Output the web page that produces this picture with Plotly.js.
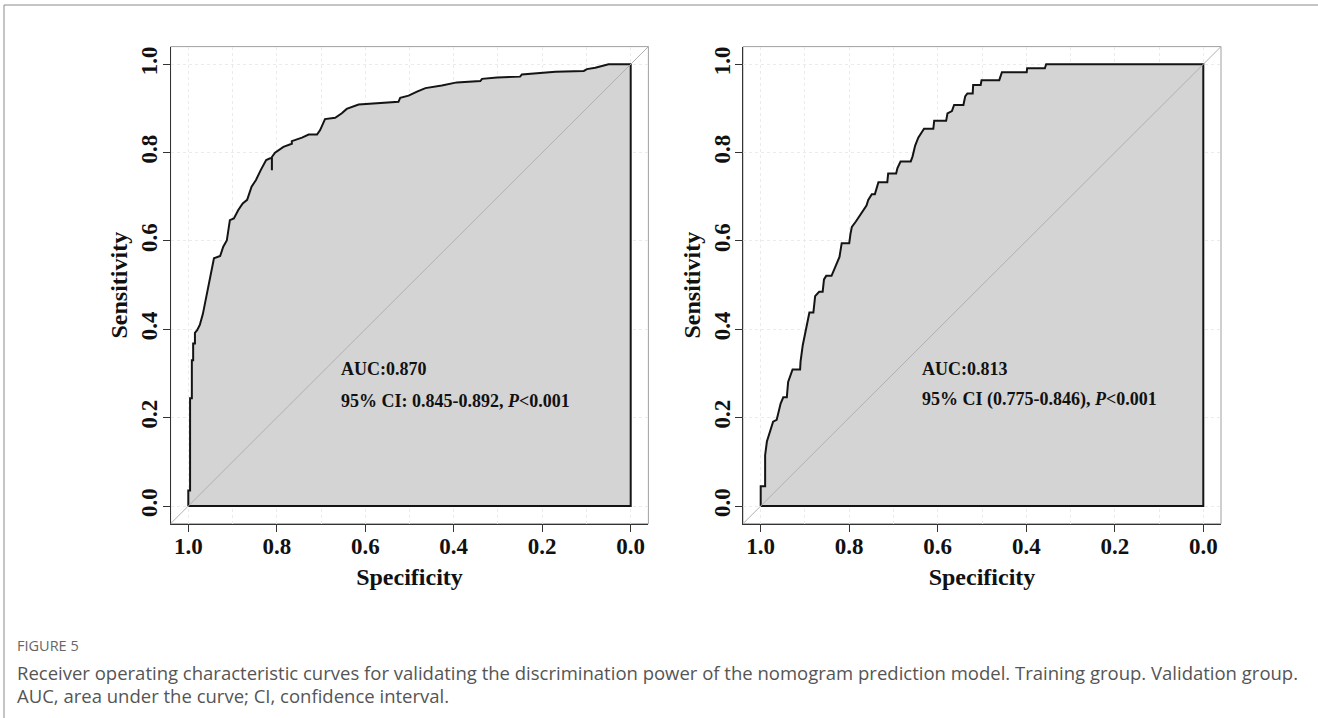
<!DOCTYPE html>
<html>
<head>
<meta charset="utf-8">
<script src="https://cdn.plot.ly/plotly-3.0.1.min.js"></script>
<style>
  html, body { margin: 0; padding: 0; background: #ffffff; }
  #chart { width: 1318px; height: 718px; }
</style>
</head>
<body>
<div id="chart"></div>
<script>
// ---- Data ----
const trainSpecificity = [1.000, 1.000, 0.996, 0.996, 0.992, 0.992, 0.989, 0.989, 0.985, 0.985, 0.980, 0.974, 0.967, 0.962, 0.957, 0.952, 0.947, 0.942, 0.928, 0.921, 0.913, 0.909, 0.906, 0.897, 0.887, 0.877, 0.867, 0.857, 0.847, 0.836, 0.824, 0.815, 0.811, 0.811, 0.811, 0.804, 0.800, 0.785, 0.766, 0.766, 0.743, 0.728, 0.709, 0.702, 0.691, 0.668, 0.653, 0.642, 0.615, 0.562, 0.525, 0.521, 0.502, 0.483, 0.464, 0.427, 0.393, 0.340, 0.336, 0.302, 0.250, 0.246, 0.170, 0.106, 0.099, 0.080, 0.061, 0.050, 0.000];
const trainSensitivity = [0.000, 0.035, 0.035, 0.244, 0.244, 0.330, 0.330, 0.368, 0.368, 0.392, 0.398, 0.410, 0.435, 0.459, 0.482, 0.508, 0.534, 0.561, 0.566, 0.587, 0.601, 0.625, 0.647, 0.651, 0.670, 0.685, 0.693, 0.723, 0.738, 0.761, 0.783, 0.787, 0.787, 0.760, 0.790, 0.800, 0.803, 0.813, 0.820, 0.826, 0.834, 0.841, 0.841, 0.851, 0.876, 0.879, 0.889, 0.899, 0.909, 0.912, 0.915, 0.924, 0.929, 0.938, 0.946, 0.952, 0.959, 0.962, 0.967, 0.970, 0.972, 0.977, 0.983, 0.985, 0.989, 0.992, 0.996, 1.000, 1.000];

const validSpecificity = [1.000, 1.000, 0.990, 0.990, 0.986, 0.983, 0.977, 0.972, 0.964, 0.960, 0.955, 0.949, 0.941, 0.938, 0.932, 0.928, 0.911, 0.910, 0.905, 0.900, 0.895, 0.890, 0.881, 0.877, 0.868, 0.860, 0.857, 0.852, 0.840, 0.836, 0.827, 0.822, 0.817, 0.800, 0.797, 0.794, 0.785, 0.776, 0.768, 0.761, 0.757, 0.749, 0.742, 0.738, 0.734, 0.714, 0.712, 0.694, 0.691, 0.684, 0.661, 0.657, 0.651, 0.644, 0.636, 0.631, 0.610, 0.608, 0.581, 0.578, 0.568, 0.563, 0.542, 0.538, 0.533, 0.521, 0.520, 0.503, 0.501, 0.461, 0.455, 0.399, 0.398, 0.358, 0.355, 0.000];
const validSensitivity = [0.000, 0.045, 0.045, 0.115, 0.146, 0.157, 0.176, 0.191, 0.195, 0.211, 0.232, 0.246, 0.246, 0.281, 0.300, 0.309, 0.309, 0.327, 0.364, 0.391, 0.414, 0.438, 0.438, 0.475, 0.485, 0.485, 0.513, 0.521, 0.521, 0.530, 0.551, 0.564, 0.595, 0.595, 0.617, 0.632, 0.644, 0.657, 0.668, 0.680, 0.693, 0.706, 0.706, 0.719, 0.733, 0.733, 0.753, 0.753, 0.765, 0.780, 0.780, 0.791, 0.816, 0.834, 0.846, 0.854, 0.854, 0.872, 0.872, 0.889, 0.894, 0.908, 0.908, 0.927, 0.934, 0.934, 0.953, 0.953, 0.964, 0.964, 0.982, 0.982, 0.991, 0.991, 1.000, 1.000];

const tickValues = [1.0, 0.8, 0.6, 0.4, 0.2, 0.0];
const tickLabels = ['1.0', '0.8', '0.6', '0.4', '0.2', '0.0'];

const trainLabel1 = '<b>AUC:0.870</b>';
const trainLabel2 = '<b>95% CI: 0.845-0.892, <i>P</i>&lt;0.001</b>';
const validLabel1 = '<b>AUC:0.813</b>';
const validLabel2 = '<b>95% CI (0.775-0.846), <i>P</i>&lt;0.001</b>';

const captionHead = 'FIGURE 5';
const captionLine1 = 'Receiver operating characteristic curves for validating the discrimination power of the nomogram prediction model. Training group. Validation group.';
const captionLine2 = 'AUC, area under the curve; CI, confidence interval.';

// ---- Layout helpers (pixel -> paper) ----
const W = 1318, H = 718;
const PX = x => x / W;
const PY = y => 1 - y / H;

const serif = 'Liberation Serif, Times New Roman, serif';
const sans = 'Open Sans, Noto Sans, sans-serif';

function rocPolygon(spec, sens, xa, ya) {
  return {
    type: 'scatter', mode: 'lines',
    x: spec.concat([0, 1]), y: sens.concat([0, 0]),
    xaxis: xa, yaxis: ya,
    fill: 'toself', fillcolor: '#d4d4d4',
    line: { color: '#141414', width: 2 },
    hoverinfo: 'skip', showlegend: false
  };
}

const data = [
  rocPolygon(trainSpecificity, trainSensitivity, 'x', 'y'),
  rocPolygon(validSpecificity, validSensitivity, 'x2', 'y2')
];

function xAxis(domain, anchor) {
  return {
    domain: domain, anchor: anchor,
    range: [1.04, -0.04], autorange: false,
    tickmode: 'array', tickvals: tickValues, ticktext: tickLabels,
    ticks: 'outside', ticklen: 7, tickwidth: 1, tickcolor: '#333',
    ticklabelstandoff: -5,
    tickfont: { family: serif, size: 23, color: '#111', weight: 'bold' },
    showline: true, linecolor: '#333', linewidth: 1, mirror: false,
    zeroline: false,
    showgrid: true, gridcolor: '#ebebeb', gridwidth: 1, griddash: 'dot',
    minor: { tickmode: 'linear', tick0: 0, dtick: 0.1, showgrid: true, gridcolor: '#ebebeb', griddash: 'dot', ticks: '' },
    title: { text: 'Specificity', font: { family: serif, size: 24, color: '#111', weight: 'bold' }, standoff: 9 },
    fixedrange: true
  };
}
function yAxis(domain, anchor) {
  return {
    domain: domain, anchor: anchor,
    range: [-0.04, 1.04], autorange: false,
    tickmode: 'array', tickvals: tickValues, ticktext: tickLabels,
    tickangle: -90,
    ticks: 'outside', ticklen: 7, tickwidth: 1, tickcolor: '#333',
    ticklabelstandoff: -4,
    tickfont: { family: serif, size: 23, color: '#111', weight: 'bold' },
    showline: true, linecolor: '#333', linewidth: 1, mirror: false,
    zeroline: false,
    showgrid: true, gridcolor: '#ebebeb', gridwidth: 1, griddash: 'dot',
    title: { text: 'Sensitivity', font: { family: serif, size: 24, color: '#111', weight: 'bold' }, standoff: 2 },
    fixedrange: true
  };
}

const leftX = [PX(170.6), PX(648.4)];
const rightX = [PX(743), PX(1221)];
const plotY = [PY(523.7), PY(46.6)];

function boxShapes(xr, yr) {
  return [
    { type: 'rect', xref: 'paper', yref: 'paper', x0: xr[0], x1: xr[1], y0: yr[0], y1: yr[1],
      line: { color: '#a0a0a0', width: 1 }, layer: 'below' },
    { type: 'line', xref: 'paper', yref: 'paper', x0: xr[0], x1: xr[1], y0: yr[0], y1: yr[1],
      line: { color: '#b0b0b0', width: 1 }, layer: 'above' }
  ];
}

function label(text, x, y, xa, ya) {
  return { text: text, x: x, y: y, xref: xa, yref: ya, xanchor: 'left', yanchor: 'middle',
           showarrow: false, font: { family: serif, size: 18, color: '#111' } };
}

const layout = {
  width: W, height: H,
  margin: { l: 0, r: 0, t: 0, b: 0 },
  paper_bgcolor: '#ffffff', plot_bgcolor: 'rgba(0,0,0,0)',
  showlegend: false,
  xaxis: xAxis(leftX, 'y'),
  yaxis: yAxis(plotY, 'x'),
  xaxis2: xAxis(rightX, 'y2'),
  yaxis2: yAxis(plotY, 'x2'),
  shapes: [
    ...boxShapes(leftX, plotY),
    ...boxShapes(rightX, plotY),
    { type: 'line', xref: 'paper', yref: 'paper', x0: PX(4), x1: 1, y0: PY(5), y1: PY(5), line: { color: '#8a8a8a', width: 1 } },
    { type: 'line', xref: 'paper', yref: 'paper', x0: PX(4), x1: PX(4), y0: PY(5), y1: 0, line: { color: '#8a8a8a', width: 1 } }
  ],
  annotations: [
    label(trainLabel1, 0.659, 0.31, 'x', 'y'),
    label(trainLabel2, 0.659, 0.238, 'x', 'y'),
    label(validLabel1, 0.64, 0.31, 'x2', 'y2'),
    label(validLabel2, 0.64, 0.242, 'x2', 'y2'),
    { text: captionHead, x: PX(15), y: PY(645), xref: 'paper', yref: 'paper', xanchor: 'left', yanchor: 'middle',
      showarrow: false, font: { family: sans, size: 14.5, color: '#666' } },
    { text: captionLine1, x: PX(15), y: PY(672), xref: 'paper', yref: 'paper', xanchor: 'left', yanchor: 'middle',
      showarrow: false, font: { family: sans, size: 18.5, color: '#555' } },
    { text: captionLine2, x: PX(15), y: PY(695), xref: 'paper', yref: 'paper', xanchor: 'left', yanchor: 'middle',
      showarrow: false, font: { family: sans, size: 18.5, color: '#555' } }
  ]
};

Plotly.newPlot('chart', data, layout, { displayModeBar: false, staticPlot: true });
</script>
</body>
</html>
